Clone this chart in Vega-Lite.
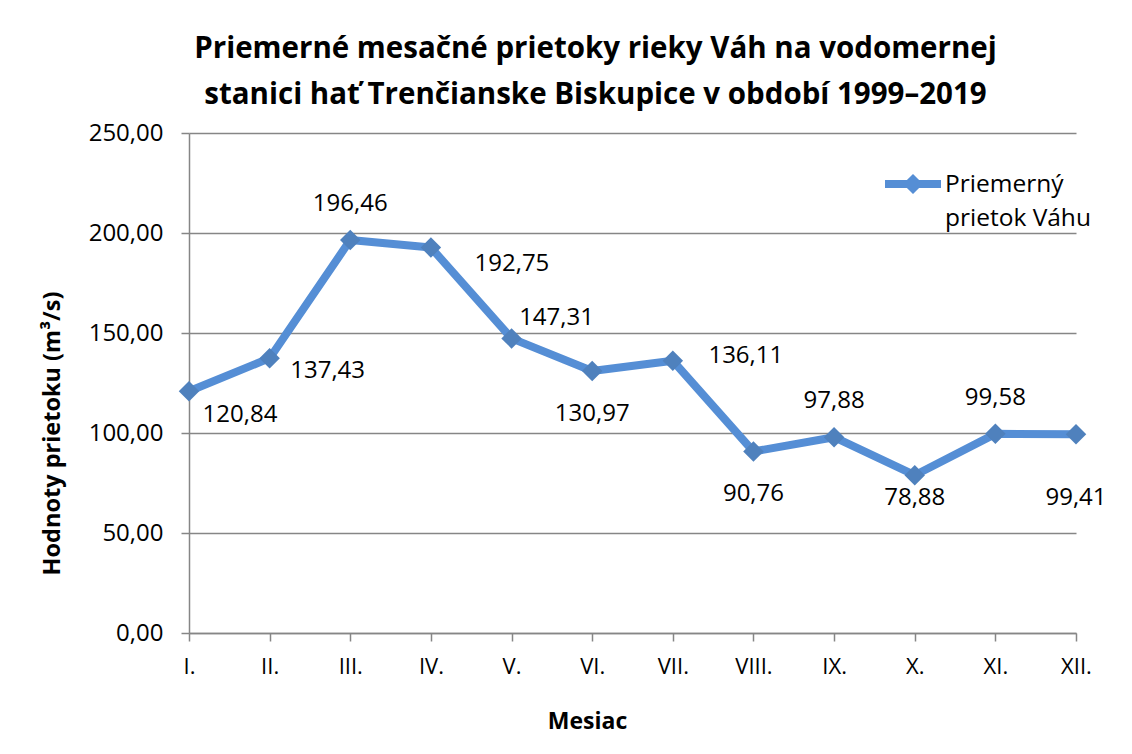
{
  "$schema": "https://vega.github.io/schema/vega-lite/v6.json",
  "width": 887,
  "height": 500,
  "autosize": {"type": "none"},
  "padding": {"left": 189, "top": 133, "right": 56, "bottom": 121},
  "background": "white",
  "title": {
    "text": ["Priemerné mesačné prietoky rieky Váh na vodomernej", "stanici hať Trenčianske Biskupice v období 1999–2019"],
    "font": "Open Sans",
    "fontSize": 29.5,
    "fontWeight": "bold",
    "color": "#000000",
    "anchor": "middle",
    "dx": -37,
    "lineHeight": 46,
    "offset": 11
  },
  "data": {
    "values": [
      {"mesiac": "I.", "prietok": 120.84},
      {"mesiac": "II.", "prietok": 137.43},
      {"mesiac": "III.", "prietok": 196.46},
      {"mesiac": "IV.", "prietok": 192.75},
      {"mesiac": "V.", "prietok": 147.31},
      {"mesiac": "VI.", "prietok": 130.97},
      {"mesiac": "VII.", "prietok": 136.11},
      {"mesiac": "VIII.", "prietok": 90.76},
      {"mesiac": "IX.", "prietok": 97.88},
      {"mesiac": "X.", "prietok": 78.88},
      {"mesiac": "XI.", "prietok": 99.58},
      {"mesiac": "XII.", "prietok": 99.41}
    ]
  },
  "encoding": {
    "x": {
      "field": "mesiac",
      "type": "ordinal",
      "sort": null,
      "scale": {"type": "point", "padding": 0},
      "axis": {
        "title": "Mesiac",
        "titleFont": "Open Sans",
        "titleFontSize": 23,
        "titleFontWeight": "bold",
        "titleColor": "#000000",
        "titlePadding": 33,
        "titleX": 398,
        "labelFont": "Open Sans",
        "labelFontSize": 22,
        "labelColor": "#000000",
        "labelAngle": 0,
        "labelPadding": 15,
        "tickSize": 8,
        "tickColor": "#868686",
        "domainColor": "#868686",
        "domainWidth": 1.5,
        "tickWidth": 1.5,
        "grid": false
      }
    },
    "y": {
      "field": "prietok",
      "type": "quantitative",
      "scale": {"domain": [0, 250], "nice": false},
      "axis": {
        "title": "Hodnoty prietoku (m³/s)",
        "titleFont": "Open Sans",
        "titleFontSize": 23.5,
        "titleFontWeight": "bold",
        "titleColor": "#000000",
        "titlePadding": 24,
        "titleY": 300,
        "values": [0, 50, 100, 150, 200, 250],
        "labelExpr": "replace(format(datum.value, '.2f'), '.', ',')",
        "labelFont": "Open Sans",
        "labelFontSize": 24,
        "labelColor": "#000000",
        "labelPadding": 18,
        "tickSize": 8,
        "tickColor": "#868686",
        "tickWidth": 1.5,
        "domainColor": "#868686",
        "domainWidth": 1.5,
        "grid": true,
        "gridColor": "#868686",
        "gridWidth": 1.5
      }
    },
    "text": {"field": "prietok", "type": "quantitative", "format": ".2f"}
  },
  "layer": [
    {
      "mark": {"type": "line", "strokeWidth": 8, "strokeJoin": "round", "strokeCap": "round"},
      "encoding": {
        "text": null,
        "color": {
          "datum": "Priemerný prietok Váhu",
          "scale": {"range": ["#558ED5"]},
          "legend": {
            "title": null,
            "orient": "none",
            "legendX": 696,
            "legendY": 23,
            "symbolType": "M-1,-0.14L1,-0.14L1,0.14L-1,0.14Z M0,-0.36L0.36,0L0,0.36L-0.36,0Z",
            "symbolSize": 3136,
            "symbolFillColor": "#558ED5",
            "symbolStrokeWidth": 0,
            "labelFont": "Open Sans",
            "labelFontSize": 24.5,
            "labelColor": "#000000",
            "labelOffset": 4,
            "labelExpr": "['Priemerný', 'prietok Váhu']",
            "labelLimit": 300,
            "labelBaseline": "top",
            "encode": {"labels": {"update": {"lineHeight": {"value": 34}, "dy": {"value": -11}}}}
          }
        }
      }
    },
    {
      "mark": {"type": "point", "shape": "diamond", "filled": true, "size": 420, "color": "#4F81BD", "opacity": 1},
      "encoding": {"text": null}
    },
    {
      "transform": [{"filter": "indexof(['III.', 'IX.', 'XI.'], datum.mesiac) >= 0"}],
      "mark": {"type": "text", "font": "Open Sans", "fontSize": 24, "color": "#000000", "dy": -36}
    },
    {
      "transform": [{"filter": "indexof(['VI.', 'VIII.'], datum.mesiac) >= 0"}],
      "mark": {"type": "text", "font": "Open Sans", "fontSize": 24, "color": "#000000", "dy": 43}
    },
    {
      "transform": [{"filter": "datum.mesiac == 'X.'"}],
      "mark": {"type": "text", "font": "Open Sans", "fontSize": 24, "color": "#000000", "dy": 23}
    },
    {
      "transform": [{"filter": "datum.mesiac == 'XII.'"}],
      "mark": {"type": "text", "font": "Open Sans", "fontSize": 24, "color": "#000000", "dy": 64}
    },
    {
      "transform": [{"filter": "datum.mesiac == 'I.'"}],
      "mark": {"type": "text", "font": "Open Sans", "fontSize": 24, "color": "#000000", "dx": 51, "dy": 24}
    },
    {
      "transform": [{"filter": "datum.mesiac == 'II.'"}],
      "mark": {"type": "text", "font": "Open Sans", "fontSize": 24, "color": "#000000", "dx": 58, "dy": 13}
    },
    {
      "transform": [{"filter": "datum.mesiac == 'IV.'"}],
      "mark": {"type": "text", "font": "Open Sans", "fontSize": 24, "color": "#000000", "dx": 81, "dy": 16}
    },
    {
      "transform": [{"filter": "datum.mesiac == 'V.'"}],
      "mark": {"type": "text", "font": "Open Sans", "fontSize": 24, "color": "#000000", "dx": 45, "dy": -20}
    },
    {
      "transform": [{"filter": "datum.mesiac == 'VII.'"}],
      "mark": {"type": "text", "font": "Open Sans", "fontSize": 24, "color": "#000000", "dx": 73, "dy": -5}
    }
  ],
  "config": {
    "view": {"stroke": null},
    "text": {"baseline": "middle"},
    "locale": {"number": {"decimal": ",", "thousands": " ", "grouping": [3], "currency": ["", ""]}}
  }
}
